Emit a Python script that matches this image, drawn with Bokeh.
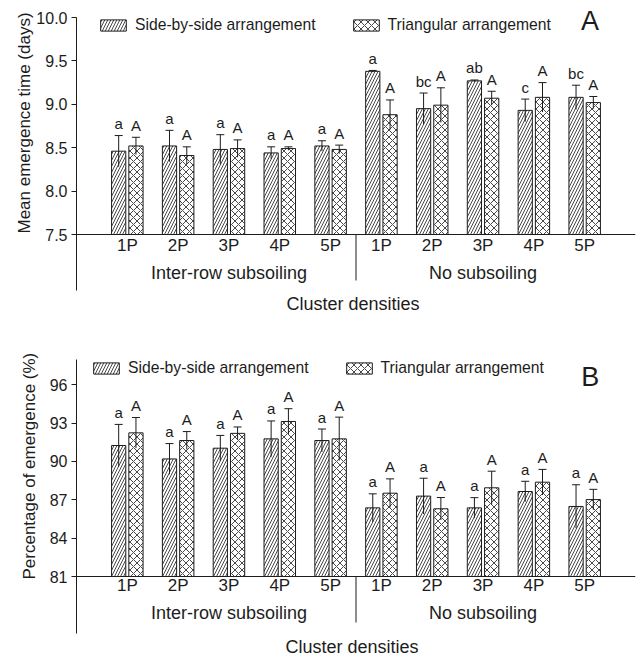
import numpy as np
from bokeh.plotting import figure
from bokeh.models import (ColumnDataSource, Range1d, FixedTicker, Span, Whisker, TeeHead,
                          Legend, LegendItem, PrintfTickFormatter, Title)
from bokeh.layouts import column
from bokeh.core.properties import value
from bokeh.embed import file_html
from bokeh.resources import INLINE

# ---------------- data ----------------
densities = ["1P", "2P", "3P", "4P", "5P"]
tillage = ["Inter-row subsoiling", "No subsoiling"]

# Panel A: mean emergence time (days)
time_side = [8.46, 8.52, 8.48, 8.44, 8.52, 9.38, 8.95, 9.27, 8.93, 9.08]
time_side_err = [0.18, 0.18, 0.17, 0.07, 0.06, 0.01, 0.18, 0.01, 0.13, 0.14]
time_tri = [8.52, 8.41, 8.49, 8.49, 8.48, 8.88, 8.99, 9.07, 9.08, 9.02]
time_tri_err = [0.10, 0.10, 0.10, 0.02, 0.05, 0.17, 0.20, 0.08, 0.17, 0.07]
time_side_sig = ["a", "a", "a", "a", "a", "a", "bc", "ab", "c", "bc"]
time_tri_sig = ["A"] * 10
time_ticks = [7.5, 8.0, 8.5, 9.0, 9.5, 10.0]

# Panel B: percentage of emergence (%)
pct_side = [91.25, 90.2, 91.04, 91.77, 91.64, 86.37, 87.29, 86.37, 87.65, 86.48]
pct_side_err = [1.65, 1.2, 1.0, 1.4, 0.9, 1.1, 1.4, 0.8, 0.8, 1.7]
pct_tri = [92.24, 91.64, 92.2, 93.13, 91.77, 87.52, 86.3, 87.94, 88.38, 87.02]
pct_tri_err = [1.2, 0.7, 0.5, 1.0, 1.7, 1.12, 0.88, 1.3, 1.0, 0.8]
pct_side_sig = ["a"] * 10
pct_tri_sig = ["A"] * 10
pct_ticks = [81, 84, 87, 90, 93, 96]

series_names = ["Side-by-side arrangement", "Triangular arrangement"]
x_axis_title = "Cluster densities"

FONT = "Liberation Sans"
INK = "#1c1c1c"
WIDTH = 644


def make_panel(side, side_err, tri, tri_err, side_sig, tri_sig, ticks, fmt, ylabel, letter,
               height, left, right, base_px, top_tick_px, axis_top_px, axis_bot_px,
               cat_off, grp_off, title_off, title_x_px, sep_len, leg_xy, letter_px,
               ylab_offset, ylab_standoff):
    n = len(side)
    xpos = np.arange(1, n + 1, dtype=float)
    x_end = 11.0
    off = 0.17
    bw = 0.28
    base = ticks[0]
    ppu = (base_px - top_tick_px) / (ticks[-1] - base)  # pixels per data unit
    y_hi = base + base_px / ppu
    y_lo = base - (height - base_px) / ppu
    pxu = (WIDTH - left - right) / x_end

    p = figure(width=WIDTH, height=height, output_backend="svg", toolbar_location=None,
               x_range=Range1d(0, x_end), y_range=Range1d(y_lo, y_hi),
               min_border_top=0, min_border_bottom=0,
               min_border_left=left, min_border_right=right)
    p.outline_line_color = None
    p.grid.visible = False
    p.xaxis.visible = False
    p.background_fill_color = "white"
    p.border_fill_color = "white"

    ya = p.yaxis[0]
    ya.ticker = FixedTicker(ticks=ticks)
    ya.bounds = (base - (axis_bot_px - base_px) / ppu, base + (base_px - axis_top_px) / ppu)
    ya.formatter = PrintfTickFormatter(format=fmt)
    ya.minor_tick_line_color = None
    ya.major_tick_in = 0
    ya.major_tick_out = 5
    ya.major_label_standoff = 4
    ya.axis_line_color = INK
    ya.major_tick_line_color = INK
    ya.major_label_text_font = FONT
    ya.major_label_text_font_size = "16px"
    ya.major_label_text_color = INK

    p.add_layout(Title(text=ylabel, align="left", offset=ylab_offset, standoff=ylab_standoff,
                       text_font=FONT, text_font_size="17px", text_font_style="normal",
                       text_color=INK), "left")

    src_s = ColumnDataSource(dict(x=xpos - off, top=side,
                                  up=[v + e for v, e in zip(side, side_err)],
                                  lo=[v - e for v, e in zip(side, side_err)], sig=side_sig))
    src_t = ColumnDataSource(dict(x=xpos + off, top=tri,
                                  up=[v + e for v, e in zip(tri, tri_err)],
                                  lo=[v - e for v, e in zip(tri, tri_err)], sig=tri_sig))

    r_s = p.vbar(x="x", top="top", bottom=base, width=bw, source=src_s,
                 fill_color="white", line_color=INK, line_width=1,
                 hatch_pattern="/", hatch_color="#333333", hatch_scale=6, hatch_weight=0.9)
    r_t = p.vbar(x="x", top="top", bottom=base, width=bw, source=src_t,
                 fill_color="white", line_color=INK, line_width=1,
                 hatch_pattern="x", hatch_color="#333333", hatch_scale=7, hatch_weight=0.9)

    for src in (src_s, src_t):
        w = Whisker(base="x", upper="up", lower="lo", source=src, line_color=INK, line_width=1,
                    upper_head=TeeHead(size=8, line_color=INK, line_width=1),
                    lower_head=None, level="overlay")
        p.add_layout(w)
        p.text(x="x", y="up", text="sig", source=src, text_align="center",
               text_baseline="middle", y_offset=-12, text_font=value(FONT),
               text_font_size="15px", text_color=INK)

    # x-axis line at the baseline value
    p.add_layout(Span(location=base, dimension="width", line_color=INK, line_width=1))

    # category labels
    p.text(x=list(xpos), y=[base] * n, text=densities * 2, text_align="center",
           text_baseline="middle", y_offset=cat_off, text_font=value(FONT),
           text_font_size="17px", text_color=INK)
    gx = [float(np.mean(xpos[:5])), float(np.mean(xpos[5:]))]
    p.text(x=gx, y=[base] * 2, text=tillage, text_align="center",
           text_baseline="middle", y_offset=grp_off, text_font=value(FONT),
           text_font_size="18px", text_color=INK)
    # separator between tillage groups
    sx = float(xpos[4] + xpos[5]) / 2
    p.segment(x0=[sx], y0=[base], x1=[sx], y1=[base - sep_len / ppu], line_color=INK, line_width=1)

    p.text(x=[(title_x_px - left) / pxu], y=[base], text=[x_axis_title], text_align="center",
           text_baseline="middle", y_offset=title_off, text_font=value(FONT),
           text_font_size="18px", text_color=INK)

    p.text(x=[(letter_px[0] - left) / pxu], y=[base + (base_px - letter_px[1]) / ppu],
           text=[letter], text_align="center", text_baseline="middle",
           text_font=value(FONT), text_font_size="27px", text_color=INK)

    vy = height - leg_xy[1] - 9
    leg = Legend(items=[LegendItem(label=series_names[0], renderers=[r_s]),
                        LegendItem(label=series_names[1], renderers=[r_t])],
                 orientation="horizontal", location=(leg_xy[0], vy),
                 glyph_width=32, glyph_height=14, label_standoff=6, spacing=34,
                 padding=0, margin=0, border_line_color=None, background_fill_alpha=0,
                 label_text_font=FONT, label_text_font_size="15.7px", label_text_color=INK,
                 label_height=14)
    p.add_layout(leg)
    return p


pA = make_panel(time_side, time_side_err, time_tri, time_tri_err, time_side_sig, time_tri_sig,
                time_ticks, "%.1f", "Mean emergence time (days)", "A",
                height=314, left=76, right=4, base_px=234, top_tick_px=17,
                axis_top_px=17, axis_bot_px=290,
                cat_off=11, grp_off=38, title_off=69, title_x_px=355, sep_len=46,
                leg_xy=(21, 25), letter_px=(594, 20), ylab_offset=81, ylab_standoff=0)

pB = make_panel(pct_side, pct_side_err, pct_tri, pct_tri_err, pct_side_sig, pct_tri_sig,
                pct_ticks, "%d", "Percentage of emergence (%)", "B",
                height=341, left=67, right=9, base_px=262, top_tick_px=70.3,
                axis_top_px=45, axis_bot_px=319,
                cat_off=9, grp_off=36, title_off=70, title_x_px=347, sep_len=46,
                leg_xy=(14, 54), letter_px=(589, 62), ylab_offset=76, ylab_standoff=15)

layout = column(pA, pB, spacing=0)
open("out.html", "w").write(file_html(layout, INLINE))
